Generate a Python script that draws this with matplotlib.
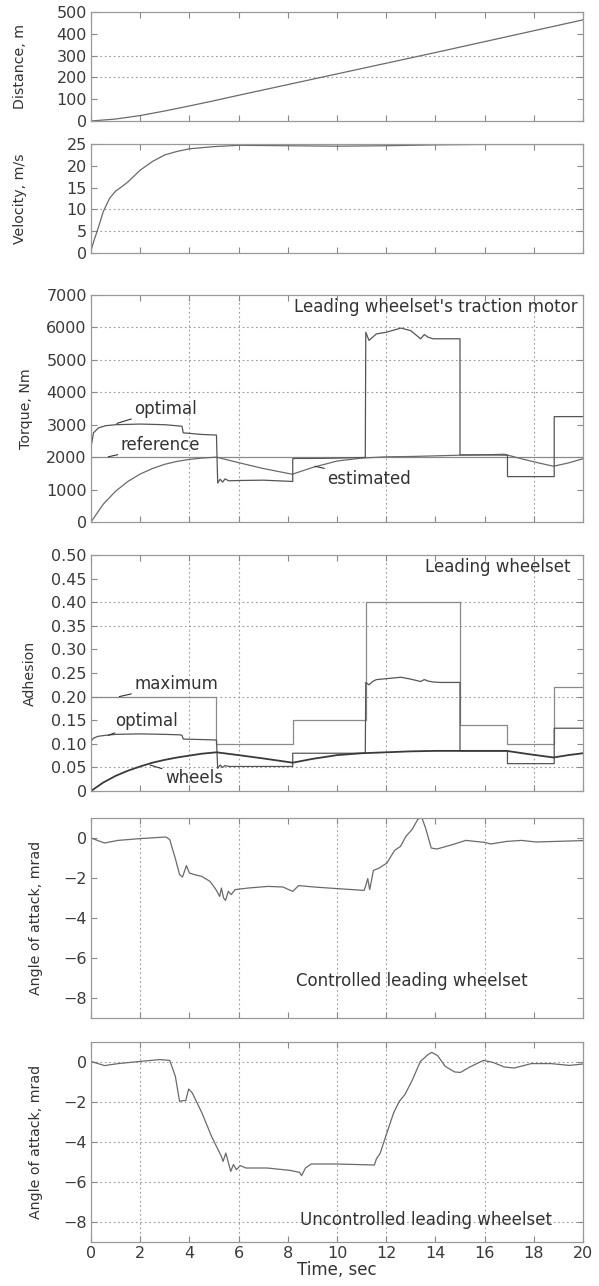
import numpy as np
import matplotlib.pyplot as plt

plt.rcParams['font.family'] = ['DejaVu Sans']

# ---- data ----
t_dist = [0, 1, 2, 3, 4, 5, 6, 8, 10, 12, 14, 16, 18, 20]
distance = [0, 9, 25, 46, 69, 93, 118, 167, 216, 265, 314, 364, 414, 464]

t_vel = [0, 0.1, 0.25, 0.5, 0.75, 1, 1.25, 1.5, 2, 2.5, 3, 3.5, 4, 5, 6, 8, 10, 12, 14, 16, 20]
velocity = [0.5, 2.5, 5, 9.5, 12.5, 14.2, 15.2, 16.3, 19, 21, 22.5, 23.3, 23.9, 24.4, 24.7, 24.6, 24.5, 24.6, 24.8, 24.9, 24.9]

t_opt = [0, 0.1, 0.3, 0.6, 1, 2, 3, 3.6, 3.7, 3.75, 4.5, 5.1, 5.15, 5.25, 5.35, 5.45, 5.6, 6, 7, 8.2,
         8.2, 8.3, 9, 10, 11.15, 11.17, 11.3, 11.45, 11.6, 12, 12.6, 13, 13.4, 13.55, 13.7, 13.9, 14.2,
         15.0, 15.0, 16, 16.93, 16.93, 18.83, 18.83, 20]
torque_opt = [2300, 2750, 2900, 2970, 3000, 3020, 3000, 2960, 2950, 2750, 2700, 2680, 1200, 1320, 1230, 1330,
              1270, 1280, 1290, 1250,
              1950, 1960, 1960, 1970, 1990, 5850, 5600, 5700, 5800, 5850, 5980, 5900, 5650, 5780, 5700, 5650, 5650,
              5650, 2070, 2070, 2060, 1400, 1400, 3250, 3250]
adh_opt = [0.105, 0.112, 0.116, 0.118, 0.12, 0.121, 0.12, 0.119, 0.118, 0.11, 0.109, 0.108, 0.048, 0.055, 0.05,
           0.054, 0.052, 0.052, 0.052, 0.052,
           0.08, 0.08, 0.08, 0.08, 0.08, 0.23, 0.225, 0.232, 0.236, 0.238, 0.241, 0.237, 0.232, 0.236, 0.233, 0.231, 0.23,
           0.23, 0.085, 0.085, 0.085, 0.058, 0.058, 0.133, 0.133]

t_ref = [0, 20]
torque_ref = [2000, 2000]

t_est = [0, 0.5, 1, 1.5, 2, 2.5, 3, 3.5, 4, 4.5, 5.1, 6, 7, 8.2, 8.25, 9, 10, 11, 12, 13, 14, 15, 16, 16.8,
         17.5, 18.2, 18.8, 19.4, 20]
torque_est = [0, 550, 950, 1250, 1480, 1650, 1780, 1870, 1930, 1970, 2000, 1830, 1650, 1470, 1490, 1680, 1880,
              1970, 2010, 2020, 2040, 2060, 2070, 2090, 1950, 1820, 1720, 1820, 1950]

t_max = [0, 5.1, 8.2, 11.17, 15.0, 16.93, 18.83, 20]
adh_max = [0.20, 0.10, 0.15, 0.40, 0.14, 0.10, 0.22, 0.22]

t_wh = [0, 0.5, 1, 1.5, 2, 2.5, 3, 3.5, 4, 4.5, 5.1, 6, 7, 8.2, 9, 10, 11, 12, 13, 14, 15, 16, 16.9, 17.8,
        18.8, 19.4, 20]
adh_wheels = [0, 0.018, 0.032, 0.043, 0.052, 0.06, 0.066, 0.071, 0.075, 0.079, 0.082, 0.076, 0.069, 0.06,
              0.068, 0.076, 0.08, 0.082, 0.084, 0.085, 0.085, 0.085, 0.085, 0.078, 0.071, 0.076, 0.08]

t_ctl = [0, 0.55, 1.1, 2, 3.05, 3.2, 3.44, 3.6, 3.72, 3.88, 4.0, 4.2, 4.5, 4.84, 5.08, 5.23, 5.3, 5.39, 5.47,
         5.58, 5.7, 5.86, 6.4, 7.2, 7.8, 8.2, 8.44, 9.06, 10, 11.1, 11.17, 11.25, 11.33, 11.48, 11.72, 12.03,
         12.34, 12.58, 12.8, 13.05, 13.28, 13.44, 13.6, 13.83, 14.06, 14.7, 15.23, 16.0, 16.25, 16.9, 17.5,
         18.1, 18.9, 20]
aoa_ctl = [0, -0.25, -0.12, -0.03, 0.05, -0.08, -1.08, -1.83, -1.95, -1.38, -1.75, -1.83, -1.92, -2.17,
           -2.58, -2.92, -2.5, -3.0, -3.12, -2.67, -2.83, -2.58, -2.5, -2.42, -2.45, -2.67, -2.38, -2.45,
           -2.53, -2.62, -2.38, -2.03, -2.58, -1.62, -1.5, -1.25, -0.62, -0.42, 0.08, 0.42, 0.92, 1.05, 0.5,
           -0.5, -0.55, -0.33, -0.12, -0.22, -0.3, -0.17, -0.12, -0.2, -0.17, -0.13]

t_unc = [0, 0.55, 1.1, 2, 2.8, 3.2, 3.43, 3.6, 3.73, 3.85, 3.97, 4.12, 4.51, 4.9, 5.3, 5.37, 5.48, 5.57,
         5.68, 5.79, 5.91, 6.07, 6.3, 7.16, 8.09, 8.48, 8.56, 8.72, 8.95, 9.96, 11.52, 11.6, 11.76, 11.98,
         12.3, 12.53, 12.76, 13.07, 13.39, 13.7, 13.85, 14.09, 14.4, 14.79, 15.02, 15.4, 15.95, 16.34, 16.8,
         17.2, 17.9, 18.7, 19.45, 20]
aoa_unc = [0.03, -0.18, -0.08, 0.03, 0.12, 0.08, -0.72, -1.97, -1.93, -1.93, -1.35, -1.55, -2.55, -3.72,
           -4.72, -4.97, -4.55, -4.97, -5.47, -5.13, -5.38, -5.18, -5.3, -5.3, -5.42, -5.52, -5.68, -5.3,
           -5.1, -5.1, -5.15, -4.85, -4.55, -3.72, -2.55, -1.97, -1.63, -0.88, 0.03, 0.37, 0.48, 0.32, -0.22,
           -0.5, -0.52, -0.25, 0.08, -0.02, -0.25, -0.3, -0.08, -0.08, -0.17, -0.1]

xticks = list(range(0, 21, 2))

# ---- layout (matches the 599x1286 reference) ----
W, H = 599, 1286
fig = plt.figure(figsize=(W / 100, H / 100), dpi=100)
left, right = 91, 583

TXT = '#333333'
LN = '#6a6a6a'
GR = '#9a9a9a'
FS = 12


def make_ax(top, bottom):
    ax = fig.add_axes([left / W, 1 - bottom / H, (right - left) / W, (bottom - top) / H])
    for s in ax.spines.values():
        s.set_color('#999999')
        s.set_linewidth(0.9)
    ax.tick_params(direction='in', top=True, right=True, length=4, width=0.8, color='#888888',
                   labelsize=11.5, labelcolor='#3a3a3a', pad=3)
    ax.set_xlim(0, 20)
    ax.set_xticks(xticks)
    return ax


def hgrid(ax, ys):
    for y in ys:
        ax.axhline(y, color=GR, lw=0.8, ls=(0, (1.5, 2.5)), zorder=0)


def vgrid(ax, xs):
    for x in xs:
        ax.axvline(x, color=GR, lw=0.8, ls=(0, (1.5, 2.5)), zorder=0)


def ylab(ax, text, x):
    ax.set_ylabel(text, fontsize=10.2, color=TXT)
    ax.yaxis.set_label_coords(x, 0.5)


arw = dict(arrowstyle='-', color='#333333', lw=0.8, shrinkA=0, shrinkB=0)

# 1 distance
ax1 = make_ax(12, 121)
hgrid(ax1, [200, 300])
ax1.plot(t_dist, distance, color=LN, lw=0.9)
ax1.set_ylim(0, 500)
ax1.set_yticks([0, 100, 200, 300, 400, 500])
ax1.set_xticklabels([])
ylab(ax1, 'Distance, m', -0.13)

# 2 velocity
ax2 = make_ax(144, 253)
hgrid(ax2, [5, 10])
ax2.plot(t_vel, velocity, color=LN, lw=0.9)
ax2.set_ylim(0, 25)
ax2.set_yticks([0, 5, 10, 15, 20, 25])
ax2.set_xticklabels([])
ylab(ax2, 'Velocity, m/s', -0.13)

# 3 torque
ax3 = make_ax(295, 522)
hgrid(ax3, [4000, 5000, 6000])
vgrid(ax3, [4, 6, 12, 18])
ax3.plot(t_ref, torque_ref, color='#8a8a8a', lw=0.9)
ax3.plot(t_est, torque_est, color=LN, lw=0.9)
ax3.plot(t_opt, torque_opt, color='#555555', lw=0.9)
ax3.set_ylim(0, 7000)
ax3.set_yticks(range(0, 7001, 1000))
ax3.set_xticklabels([])
ylab(ax3, 'Torque, Nm', -0.118)
ax3.text(19.8, 6640, "Leading wheelset's traction motor", ha='right', va='center', fontsize=FS, color=TXT)
ax3.annotate('optimal', xy=(1.05, 3040), xytext=(1.75, 3500), ha='left', va='center', fontsize=FS,
             color=TXT, arrowprops=arw)
ax3.annotate('reference', xy=(0.7, 2010), xytext=(1.2, 2370), ha='left', va='center', fontsize=FS,
             color=TXT, arrowprops=arw)
ax3.annotate('estimated', xy=(9.1, 1720), xytext=(9.6, 1340), ha='left', va='center', fontsize=FS,
             color=TXT, arrowprops=arw)

# 4 adhesion
ax4 = make_ax(555, 791)
hgrid(ax4, [0.05, 0.20, 0.35, 0.40])
vgrid(ax4, [4, 6, 12, 18])
ax4.step(t_max, adh_max, where='post', color='#8a8a8a', lw=0.9)
ax4.plot(t_opt, adh_opt, color='#555555', lw=0.9)
ax4.plot(t_wh, adh_wheels, color='#3a3a3a', lw=1.3)
ax4.set_ylim(0, 0.5)
ax4.set_yticks(np.arange(0, 0.51, 0.05))
ax4.set_yticklabels(['0'] + ['%.2f' % v for v in np.arange(0.05, 0.51, 0.05)])
ax4.set_xticklabels([])
ylab(ax4, 'Adhesion', -0.11)
ax4.text(19.5, 0.474, 'Leading wheelset', ha='right', va='center', fontsize=FS, color=TXT)
ax4.annotate('maximum', xy=(1.15, 0.2), xytext=(1.75, 0.227), ha='left', va='center', fontsize=FS,
             color=TXT, arrowprops=arw)
ax4.annotate('optimal', xy=(0.7, 0.118), xytext=(1.0, 0.148), ha='left', va='center', fontsize=FS,
             color=TXT, arrowprops=arw)
ax4.annotate('wheels', xy=(2.4, 0.055), xytext=(3.0, 0.027), ha='left', va='center', fontsize=FS,
             color=TXT, arrowprops=arw)

# 5 controlled angle of attack
ax5 = make_ax(818, 1018)
vgrid(ax5, [2, 6, 10, 12, 16])
ax5.plot(t_ctl, aoa_ctl, color=LN, lw=0.9)
ax5.set_ylim(-9, 1)
ax5.set_yticks([-8, -6, -4, -2, 0])
ax5.set_xticklabels([])
ylab(ax5, 'Angle of attack, mrad', -0.098)
ax5.text(8.35, -7.15, 'Controlled leading wheelset', ha='left', va='center', fontsize=FS, color=TXT)

# 6 uncontrolled angle of attack
ax6 = make_ax(1042, 1242)
hgrid(ax6, [-8, -6, -4, -2, 0])
vgrid(ax6, [2, 6, 10, 12, 16])
ax6.plot(t_unc, aoa_unc, color=LN, lw=0.9)
ax6.set_ylim(-9, 1)
ax6.set_yticks([-8, -6, -4, -2, 0])
ylab(ax6, 'Angle of attack, mrad', -0.098)
ax6.set_xlabel('Time, sec', fontsize=FS, color=TXT, labelpad=0)
ax6.text(8.5, -7.9, 'Uncontrolled leading wheelset', ha='left', va='center', fontsize=FS, color=TXT)

fig.savefig('out.png', dpi=100)
